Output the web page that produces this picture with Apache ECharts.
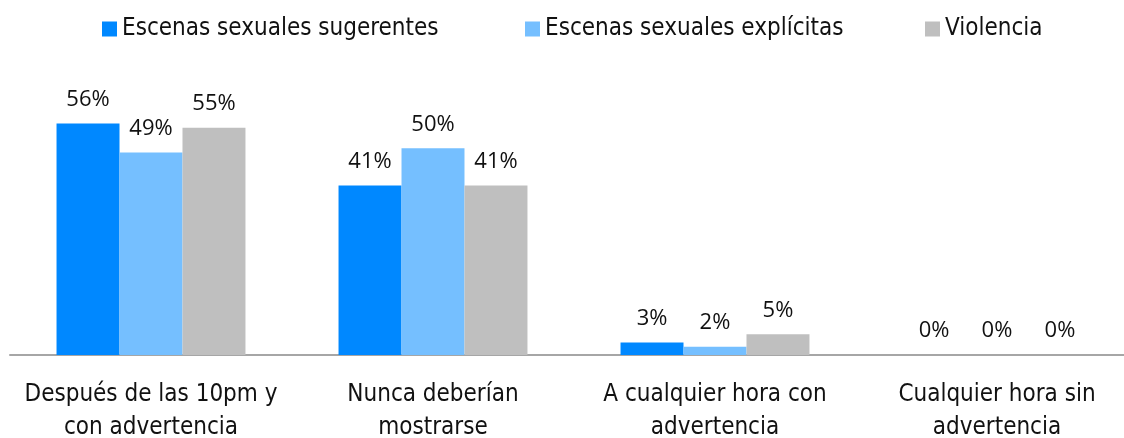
<!DOCTYPE html>
<html>
<head>
<meta charset="utf-8">
<script src="https://cdn.jsdelivr.net/npm/echarts@6/dist/echarts.min.js"></script>
<style>
  html, body { margin: 0; padding: 0; background: #fff; }
  #chart { width: 1124px; height: 438px; }
</style>
</head>
<body>
<div id="chart"></div>
<script>
    var categories = ['Después de las 10pm y\ncon advertencia', 'Nunca deberían\nmostrarse', 'A cualquier hora con\nadvertencia', 'Cualquier hora sin\nadvertencia'];
    var seriesNames = ['Escenas sexuales sugerentes', 'Escenas sexuales explícitas', 'Violencia'];
    var sugerentes = [56, 41, 3, 0];
    var explicitas = [49, 50, 2, 0];
    var violencia = [55, 41, 5, 0];
    var colors = ['#0088ff', '#75bfff', '#bfbfbf'];

    var axisFont = '"Liberation Sans Narrow", "DejaVu Sans Condensed", "Roboto", sans-serif';
    var valueFont = '"Open Sans", "Noto Sans", sans-serif';

    function Legend(name, left) {
        return {
            data: [name],
            left: left,
            top: 12,
            itemWidth: 15,
            itemHeight: 15,
            itemGap: 0,
            icon: 'rect',
            textStyle: { fontFamily: axisFont, fontSize: 24, color: '#111' }
        };
    }

    function Bar(name, data, color) {
        return {
            name: name,
            type: 'bar',
            data: data,
            barGap: 0,
            barCategoryGap: '33%',
            itemStyle: { color: color },
            label: {
                show: true,
                position: 'top',
                distance: 13,
                formatter: '{c}%',
                fontFamily: valueFont,
                fontSize: 22,
                color: '#111'
            }
        };
    }

    var chart = echarts.init(document.getElementById('chart'));
    chart.setOption({
        animation: false,
        color: colors,
        legend: [
            Legend(seriesNames[0], 97),
            Legend(seriesNames[1], 520),
            Legend(seriesNames[2], 920)
        ],
        grid: { left: 10, right: -14, top: 107, bottom: 83, outerBoundsMode: 'none', containLabel: false },
        xAxis: {
            type: 'category',
            data: categories,
            axisTick: { show: false },
            axisLine: { lineStyle: { color: '#a6a6a6', width: 2 } },
            axisLabel: {
                margin: 23,
                interval: 0,
                fontFamily: axisFont,
                fontSize: 24,
                lineHeight: 33,
                color: '#111'
            }
        },
        yAxis: {
            type: 'value',
            min: 0,
            max: 60,
            show: false,
            splitLine: { show: false }
        },
        series: [
            Bar(seriesNames[0], sugerentes, colors[0]),
            Bar(seriesNames[1], explicitas, colors[1]),
            Bar(seriesNames[2], violencia, colors[2])
        ]
    });
</script>
</body>
</html>
